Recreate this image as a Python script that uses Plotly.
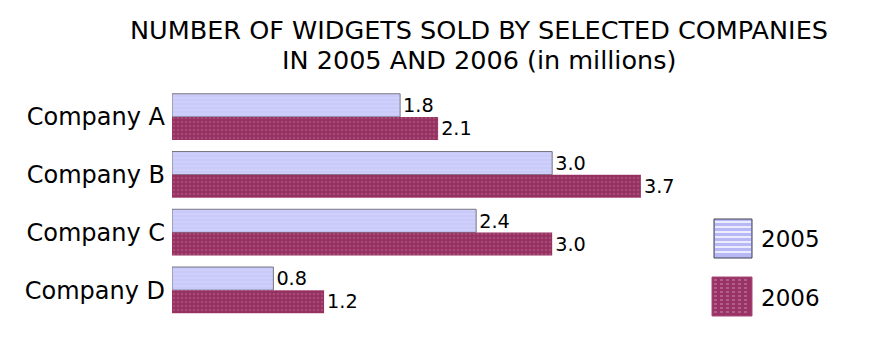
import plotly.graph_objects as go

companies = ["Company A", "Company B", "Company C", "Company D"]
sales_2005 = [1.8, 3.0, 2.4, 0.8]
sales_2006 = [2.1, 3.7, 3.0, 1.2]
labels_2005 = ["1.8", "3.0", "2.4", "0.8"]
labels_2006 = ["2.1", "3.7", "3.0", "1.2"]
series_names = ["2005", "2006"]
title_lines = ["NUMBER OF WIDGETS SOLD BY SELECTED COMPANIES", "IN 2005 AND 2006 (in millions)"]

FONT = "DejaVu Sans"
W, H = 884, 350
ML, MR, MT, MB = 164, 23, 80, 39
PW, PH = W - ML - MR, H - MT - MB


def px(x):
    return (x - ML) / PW


def py(y):
    return (H - MB - y) / PH


C05, C06 = "#CCCCFA", "#993366"

fig = go.Figure()
fig.add_trace(go.Bar(
    y=companies, x=sales_2005, orientation="h", name=series_names[0],
    text=labels_2005, textposition="outside", cliponaxis=False,
    textfont=dict(family=FONT, size=20, color="#000000"),
    marker=dict(color=C05, line=dict(color="#757585", width=1),
                pattern=dict(shape="-", fgcolor="#D8D8FF", bgcolor="#CACAF8", size=4, solidity=0.4)),
))
fig.add_trace(go.Bar(
    y=companies, x=sales_2006, orientation="h", name=series_names[1],
    text=labels_2006, textposition="outside", cliponaxis=False,
    textfont=dict(family=FONT, size=20, color="#000000"),
    marker=dict(color=C06, line=dict(width=0),
                pattern=dict(shape=".", fgcolor="#B8668E", bgcolor="#953060", size=4, solidity=0.35)),
))

# legend drawn as decoration (large swatches like the reference)
shapes = []
x0, x1, y0, y1 = 706, 744, 211, 250
shapes.append(dict(type="rect", xref="paper", yref="paper", x0=px(x0), x1=px(x1), y0=py(y1), y1=py(y0),
                   fillcolor="#B8B8F6", line=dict(color="#404050", width=1), layer="above"))
path = " ".join(f"M{px(x0 + 1)},{py(yy)} H{px(x1 - 1)}" for yy in range(y0 + 3, y1 - 1, 5))
shapes.append(dict(type="path", xref="paper", yref="paper", path=path,
                   line=dict(color="#ECECFF", width=2), layer="above"))
x0, x1, y0, y1 = 704, 744, 269, 308
shapes.append(dict(type="rect", xref="paper", yref="paper", x0=px(x0), x1=px(x1), y0=py(y1), y1=py(y0),
                   fillcolor=C06, line=dict(color="#A84878", width=1), layer="above"))
path = " ".join(f"M{px(x0 + 2)},{py(yy)} H{px(x1 - 2)}" for yy in range(y0 + 3, y1 - 1, 4))
shapes.append(dict(type="path", xref="paper", yref="paper", path=path,
                   line=dict(color="#C890AC", width=1, dash="dot"), layer="above"))

annotations = [
    dict(text=title_lines[0], xref="paper", yref="paper", x=px(471), y=py(22),
         xanchor="center", yanchor="middle", showarrow=False,
         font=dict(family=FONT, size=25.5, color="#000000")),
    dict(text=title_lines[1], xref="paper", yref="paper", x=px(471), y=py(52),
         xanchor="center", yanchor="middle", showarrow=False,
         font=dict(family=FONT, size=25.5, color="#000000")),
    dict(text=series_names[0], xref="paper", yref="paper", x=px(751), y=py(231),
         xanchor="left", yanchor="middle", showarrow=False,
         font=dict(family=FONT, size=23, color="#000000")),
    dict(text=series_names[1], xref="paper", yref="paper", x=px(751), y=py(290),
         xanchor="left", yanchor="middle", showarrow=False,
         font=dict(family=FONT, size=23, color="#000000")),
]

fig.update_layout(
    width=W, height=H,
    margin=dict(l=ML, r=MR, t=MT, b=MB, autoexpand=False),
    paper_bgcolor="white", plot_bgcolor="white",
    barmode="group", bargap=0.2, bargroupgap=0,
    font=dict(family=FONT, color="#000000"),
    xaxis=dict(range=[0, 5.5], visible=False, showgrid=False, zeroline=False),
    yaxis=dict(autorange="reversed", showgrid=False, zeroline=False, showline=False,
               ticks="", tickfont=dict(family=FONT, size=24, color="#000000"),
               ticklabelstandoff=6, automargin=False),
    showlegend=False,
    shapes=shapes,
    annotations=annotations,
)

fig.write_html("out.html")
